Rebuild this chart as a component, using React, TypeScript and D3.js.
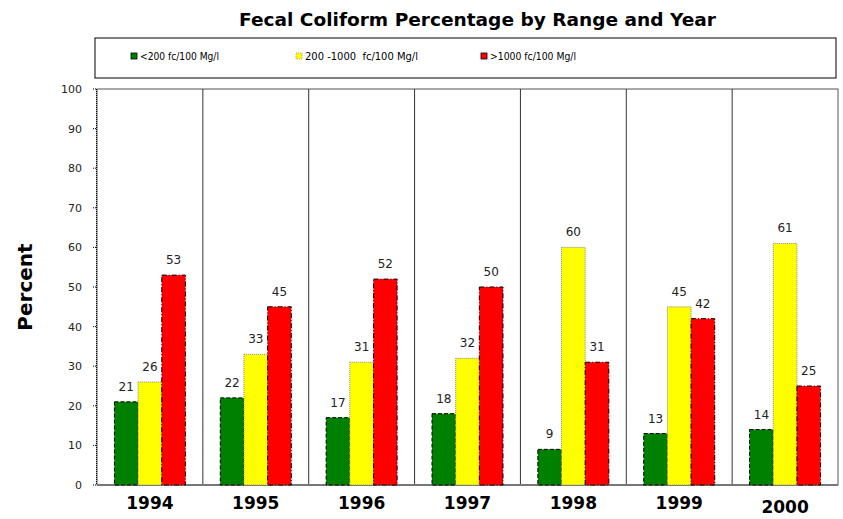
import React from "react";
import * as d3 from "d3";

const years = ["1994", "1995", "1996", "1997", "1998", "1999", "2000"];
const seriesNames = ["<200 fc/100 Mg/l", "200 -1000  fc/100 Mg/l", ">1000 fc/100 Mg/l"];
const low = [21, 22, 17, 18, 9, 13, 14];
const mid = [26, 33, 31, 32, 60, 45, 61];
const high = [53, 45, 52, 50, 31, 42, 25];
const yTicks = [0, 10, 20, 30, 40, 50, 60, 70, 80, 90, 100];

const colors = ["#008000", "#ffff00", "#ff0000"];
const strokes = ["#000", "#888", "#000"];
const dashes = ["4,2", "1,1", "5,2,1,2"];
const legendX = [131, 296, 481];
const legendLen = [79, 113, 86];

const W = 843, H = 519;
const L = 97, R = 838, T = 89, B = 485;
const font = "'Comic Sans MS', 'DejaVu Sans', sans-serif";

export default function App() {
  const x = d3.scaleBand<string>().domain(years).range([L, R]).paddingInner(0).paddingOuter(0);
  const inner = d3.scaleBand<number>().domain([0, 1, 2]).range([0, 71]);
  const y = d3.scaleLinear().domain([0, 100]).range([B, T]);
  const series = [low, mid, high];
  const groupOffset = (x.bandwidth() - 71) / 2;

  return (
    <svg width={W} height={H} style={{ position: "absolute", left: 0, top: 0, background: "#fff" }}>
      <rect x={0} y={0} width={W} height={H} fill="#fff" />
      <text x={239} y={26} fontFamily={font} fontWeight="bold" fontSize={18} textLength={477} lengthAdjust="spacingAndGlyphs">
        Fecal Coliform Percentage by Range and Year
      </text>
      {/* legend */}
      <rect x={95} y={38} width={741} height={40} fill="#fff" stroke="#000" strokeWidth={1} />
      {legendX.map((lx, i) => (
        <g key={i}>
          <rect x={lx} y={53} width={6} height={6} fill={colors[i]} stroke={strokes[i]} strokeWidth={0.8} strokeDasharray={i === 1 ? "1,1" : undefined} />
          <text x={lx + 9} y={60} fontFamily={font} fontSize={11} fill="#000" style={{ whiteSpace: "pre" }} textLength={legendLen[i]} lengthAdjust="spacingAndGlyphs">{seriesNames[i]}</text>
        </g>
      ))}
      {/* plot frame */}
      <rect x={L} y={T} width={R - L} height={B - T} fill="none" stroke="#555" strokeWidth={1} />
      {yTicks.map((t) => (
        <g key={t}>
          <line x1={L - 4} x2={L} y1={y(t)} y2={y(t)} stroke="#000" strokeDasharray="1,1" />
          <text x={82} y={y(t) + 4} textAnchor="end" fontFamily={font} fontSize={11} fill="#222">{t}</text>
        </g>
      ))}
      <line x1={L - 0.5} x2={L - 0.5} y1={T} y2={B} stroke="#000" strokeDasharray="1,1" />
      {/* separators */}
      {years.slice(1).map((yr) => (
        <line key={yr} x1={x(yr)!} x2={x(yr)!} y1={T} y2={B} stroke="#333" strokeWidth={1} />
      ))}
      <line x1={L} x2={R} y1={B} y2={B} stroke="#777" strokeWidth={2} />
      {/* bars */}
      {years.map((yr, gi) => (
        <g key={yr}>
          {series.map((s, si) => {
            const bx = x(yr)! + groupOffset + inner(si)!;
            const bw = inner.bandwidth();
            return (
              <g key={si}>
                <rect x={bx} y={y(s[gi])} width={bw} height={B - y(s[gi])} fill={colors[si]} stroke={strokes[si]} strokeWidth={1} strokeDasharray={dashes[si]} />
                <text x={bx + bw / 2} y={y(s[gi]) - 11} textAnchor="middle" fontFamily={font} fontSize={12} fill="#222">{s[gi]}</text>
              </g>
            );
          })}
          <text x={x(yr)! + x.bandwidth() / 2} y={yr === "2000" ? 513 : 509} textAnchor="middle" fontFamily={font} fontWeight="bold" fontSize={17}>{yr}</text>
        </g>
      ))}
      <text transform="translate(32,287) rotate(-90)" textAnchor="middle" fontFamily={font} fontWeight="bold" fontSize={20}>Percent</text>
    </svg>
  );
}
